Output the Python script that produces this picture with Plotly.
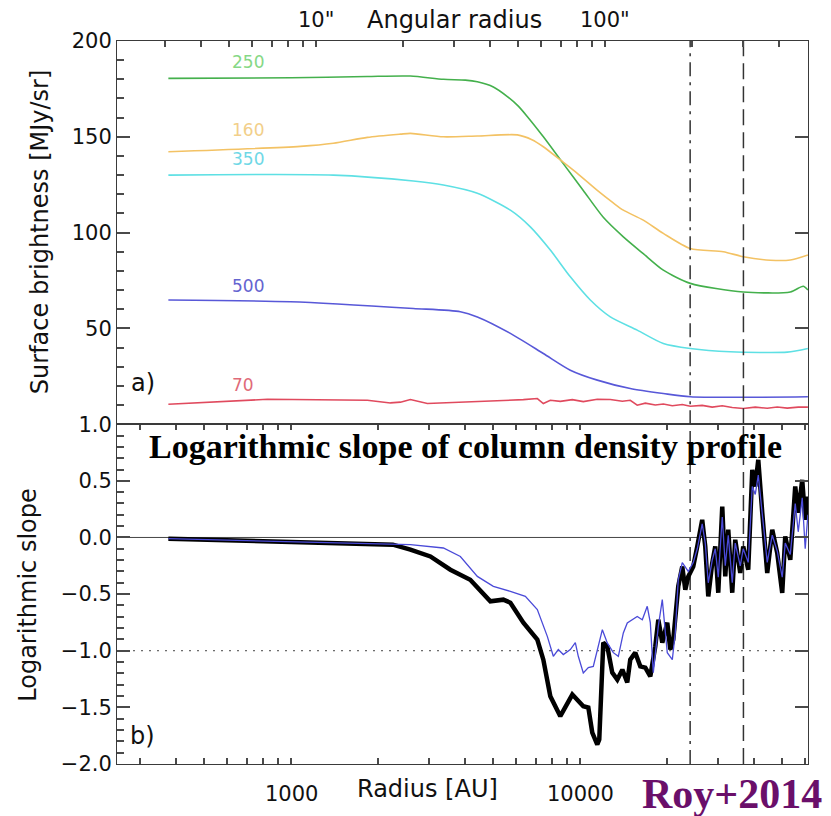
import numpy as np
import plotly.graph_objects as go

# ---------------- data ----------------
# top panel: surface brightness [MJy/sr] vs radius [AU]
r_250 = [375, 1000, 1830, 2580, 3360, 4000, 4400, 5000, 5590, 6100, 6560, 7450, 8730,
         10240, 12010, 14090, 16520, 19380, 24030, 36640, 53320, 59110, 61350]
sb_250 = [180.5, 180.8, 181.5, 181.7, 180.0, 179.6, 178.7, 176.0, 171.0, 166.0, 160.5,
          150.0, 136.0, 122.0, 108.0, 97.8, 89.0, 80.4, 73.5, 69.0, 69.0, 72.0, 70.0]

r_160 = [375, 1074, 1397, 1832, 2384, 2581, 3357, 4401, 6053, 6800, 7447, 8526, 9763,
         11450, 13000, 14090, 16520, 19380, 24030, 31250, 36640, 45440, 53320, 61350]
sb_160 = [142.2, 145.0, 146.6, 149.7, 151.4, 151.8, 150.0, 150.4, 151.0, 148.5, 144.8,
          137.9, 130.9, 122.0, 115.5, 111.7, 106.5, 99.6, 91.7, 90.0, 87.4, 85.6, 85.7, 88.3]

r_350 = [375, 1397, 2643, 3357, 4401, 5727, 6714, 7873, 9235, 10830, 12700, 15740,
         19380, 24030, 33040, 52040, 61350]
sb_350 = [130.0, 130.0, 126.9, 124.8, 120.5, 111.7, 103.0, 90.9, 76.9, 64.8, 56.0, 49.1,
          42.1, 39.5, 37.8, 37.6, 39.5]

r_500 = [375, 992, 2643, 3844, 4401, 5727, 7447, 9235, 11450, 14890, 19380, 24030, 61350]
sb_500 = [64.8, 63.9, 60.4, 58.7, 56.0, 47.4, 36.9, 28.2, 23.0, 18.6, 16.0, 14.3, 14.3]

r_70 = [375, 615, 826, 1832, 2201, 2384, 2581, 2955, 3550, 4401, 5415, 6351, 7099, 7447,
        7873, 8526, 9383, 10240, 11450, 12700, 13980, 14890, 15740, 16790, 18180, 19380,
        20820, 22540, 24030, 26420, 28620, 31000, 33570, 36640, 40330, 44370, 48050,
        52040, 56800, 61350]
sb_70 = [10.4, 11.8, 13.0, 12.5, 11.1, 11.5, 12.9, 10.8, 11.2, 11.6, 12.4, 12.8, 13.4,
         10.8, 12.5, 11.9, 12.8, 11.8, 13.0, 12.9, 12.0, 12.5, 9.9, 11.0, 10.0, 10.5, 9.6,
         10.3, 9.4, 9.8, 8.9, 9.6, 8.7, 8.2, 8.9, 8.3, 9.0, 8.4, 8.9, 8.9]

# bottom panel: logarithmic slope of column density profile
r_slope = [375, 1397, 2245, 2581, 3027, 3550, 4159, 4882, 5415, 5727, 6351, 7099, 7447,
           7873, 8526, 9383, 10240, 10660, 11000, 11450, 11630, 12010, 12400, 12900,
           13430, 13980, 14540, 14890, 15500, 16130, 16790, 17470, 18180, 18620, 19220,
           20000, 20490, 20980, 21830, 22540, 23090, 23650, 24600, 25400, 26420, 27070,
           27730, 28620, 29320, 30030, 31000, 31750, 32520, 33570, 34380, 35780, 36640,
           38130, 39380, 40330, 41310, 42650, 44370, 46180, 48050, 50000, 51210, 53320,
           55460, 56800, 58640, 60050, 61350]
slope_black = [-0.011, -0.049, -0.064, -0.108, -0.168, -0.285, -0.373, -0.564, -0.549,
               -0.576, -0.752, -0.902, -1.079, -1.402, -1.578, -1.387, -1.490, -1.501,
               -1.722, -1.828, -1.784, -0.929, -0.961, -1.193, -1.255, -1.167, -1.281,
               -1.079, -1.017, -1.138, -1.149, -1.226, -0.961, -0.726, -0.929, -0.752,
               -0.990, -0.902, -0.432, -0.256, -0.461, -0.344, -0.256, -0.079, 0.156,
               -0.079, -0.520, -0.226, -0.079, -0.488, 0.273, -0.344, 0.068, -0.488,
               -0.020, -0.314, -0.079, -0.285, 0.597, 0.450, 0.685, 0.215, -0.314, 0.068,
               -0.138, -0.490, 0.009, -0.197, 0.450, 0.218, 0.509, 0.156, 0.362]

r_slope_blue = [375, 1397, 2245, 2581, 3357, 3844, 4401, 5000, 5727, 6453, 7099, 7687,
                8064, 8391, 8733, 9235, 9610, 9840, 10240, 10660, 11090, 11540, 11920,
                12400, 13010, 13540, 14090, 14540, 15130, 15740, 16390, 17050, 17470,
                17890, 18620, 19220, 20000, 20820, 21320, 21830, 22540, 23650, 24600,
                25400, 26420, 27070, 27730, 28620, 29320, 30030, 31000, 31750, 32520,
                33570, 34380, 35780, 36640, 38130, 39380, 40330, 41310, 42650, 44370,
                46180, 48050, 50000, 51210, 53320, 55460, 56800, 58640, 60050, 61350]
slope_blue = [-0.011, -0.045, -0.055, -0.064, -0.093, -0.168, -0.344, -0.432, -0.476,
              -0.520, -0.637, -0.873, -1.049, -0.990, -1.034, -0.990, -0.929, -1.049,
              -1.196, -1.149, -1.138, -0.961, -0.814, -0.931, -1.017, -1.049, -0.843,
              -0.755, -0.726, -0.697, -0.726, -0.608, -0.752, -1.193, -0.785, -0.549,
              -1.017, -1.079, -0.840, -0.373, -0.223, -0.30, -0.22, -0.10, 0.12, -0.05,
              -0.40, -0.20, -0.10, -0.35, 0.18, -0.25, 0.02, -0.40, -0.05, -0.25, -0.10,
              -0.22, 0.45, 0.38, 0.55, 0.20, -0.22, 0.02, -0.12, -0.35, -0.05, -0.15,
              0.30, 0.05, 0.35, -0.10, 0.20]

# reference radii (vertical lines) [AU]
r_dashdot = 24000
r_dashed = 36700

# axis settings
R_MIN, R_MAX = 249, 61400          # AU
AU_PER_ARCSEC = 122.0
sb_range = [0, 200]
slope_range = [-2.0, 1.0]
sb_ticks = [50, 100, 150, 200]
sb_minor = [v for v in range(10, 200, 10) if v % 50]
slope_ticks = [-2.0, -1.5, -1.0, -0.5, 0.0, 0.5, 1.0]
slope_ticktext = ["\u22122.0", "\u22121.5", "\u22121.0", "\u22120.5", "0.0", "0.5", "1.0"]
slope_minor = [round(-2.0 + 0.1 * i, 1) for i in range(31) if i % 5]
au_ticks = [1000, 10000]
au_ticktext = ["1000", "10000"]
au_minor = [300, 400, 500, 600, 700, 800, 900, 2000, 3000, 4000, 5000, 6000, 7000,
            8000, 9000, 20000, 30000, 40000, 50000, 60000]
as_ticks = [10, 100]
as_ticktext = ['10"', '100"']
as_minor = [3, 4, 5, 6, 7, 8, 9, 20, 30, 40, 50, 60, 70, 80, 90, 200, 300, 400]

series = [
    ("250", r_250, sb_250, "#44b04c", "#86d886", 710, 189),
    ("160", r_160, sb_160, "#f3c264", "#f2cf8a", 710, 153.6),
    ("350", r_350, sb_350, "#5ee0e4", "#6fd8e6", 710, 138.3),
    ("500", r_500, sb_500, "#5858d8", "#6464d0", 710, 72.2),
    ("70", r_70, sb_70, "#e04a5e", "#e06a78", 682, 20.6),
]

# ---------------- figure ----------------
TOP_DOM = [0.47, 1.0]
BOT_DOM = [0.0, 0.47]
lo, hi = float(np.log10(R_MIN)), float(np.log10(R_MAX))


def px(r):      # radius -> paper x
    return float((np.log10(r) - lo) / (hi - lo))


def py_top(v):  # surface brightness -> paper y
    return TOP_DOM[0] + (TOP_DOM[1] - TOP_DOM[0]) * (v - sb_range[0]) / (sb_range[1] - sb_range[0])


fig = go.Figure()
FRAME = "#3a3a3a"
TICKC = "#4a4a4a"
TICKFONT = dict(family="DejaVu Sans", size=21, color="#111")

for name, r, sb, col, lcol, lx, ly in series:
    smooth = name != "70"
    line = dict(color=col, width=1.6)
    if smooth:
        line.update(shape="spline", smoothing=0.7)
    fig.add_trace(go.Scatter(x=r, y=sb, mode="lines", xaxis="x2", yaxis="y2",
                             line=line, showlegend=False))
    fig.add_annotation(x=px(lx), y=py_top(ly), xref="paper", yref="paper", text=name,
                       xanchor="center", yanchor="middle", showarrow=False,
                       font=dict(family="DejaVu Sans", size=17, color=lcol))

# horizontal reference lines in slope panel
fig.add_trace(go.Scatter(x=[R_MIN, R_MAX], y=[0, 0], mode="lines", xaxis="x", yaxis="y",
                         line=dict(color="#444", width=1), showlegend=False))
fig.add_trace(go.Scatter(x=[R_MIN, R_MAX], y=[-1, -1], mode="lines", xaxis="x", yaxis="y",
                         line=dict(color="#444", width=1, dash="2px,6px"), showlegend=False))

# vertical lines in both panels
for xa, ya, yr in [("x2", "y2", sb_range), ("x", "y", slope_range)]:
    fig.add_trace(go.Scatter(x=[r_dashdot, r_dashdot], y=yr, mode="lines", xaxis=xa, yaxis=ya,
                             line=dict(color="#333", width=1.5, dash="14px,6px,3px,6px"),
                             showlegend=False))
    fig.add_trace(go.Scatter(x=[r_dashed, r_dashed], y=yr, mode="lines", xaxis=xa, yaxis=ya,
                             line=dict(color="#333", width=1.5, dash="16px,7px"),
                             showlegend=False))

fig.add_trace(go.Scatter(x=r_slope, y=slope_black, mode="lines", xaxis="x", yaxis="y",
                         line=dict(color="black", width=4.5), showlegend=False))
fig.add_trace(go.Scatter(x=r_slope_blue, y=slope_blue, mode="lines", xaxis="x", yaxis="y",
                         line=dict(color="#4a4ad8", width=1.3), showlegend=False))

# invisible anchor traces for the minor-tick y axes
fig.add_trace(go.Scatter(x=[1000], y=[100], mode="markers", xaxis="x2", yaxis="y3",
                         marker=dict(opacity=0), hoverinfo="skip", showlegend=False))
fig.add_trace(go.Scatter(x=[1000], y=[0], mode="markers", xaxis="x", yaxis="y4",
                         marker=dict(opacity=0), hoverinfo="skip", showlegend=False))

au_all = sorted(au_ticks + au_minor)
as_all_au = [s * AU_PER_ARCSEC for s in sorted(as_ticks + as_minor)]

fig.update_layout(
    width=831, height=816,
    margin=dict(l=117, r=23, t=41, b=51.5),
    plot_bgcolor="white", paper_bgcolor="white", showlegend=False,
    # bottom panel radius axis (ticks mirrored to the top of the panel)
    xaxis=dict(type="log", range=[lo, hi], anchor="y", domain=[0, 1], showline=True,
               linecolor=FRAME, mirror="ticks", showgrid=False, zeroline=False,
               tickcolor=TICKC, tickwidth=2, ticks="inside", tickmode="array",
               ticklen=6, tickvals=au_all, showticklabels=False),
    # top panel: ticks of angular radius along its top edge
    xaxis2=dict(type="log", range=[lo, hi], anchor="y2", domain=[0, 1], side="top",
                showline=True, linecolor=FRAME, mirror=True, showgrid=False,
                zeroline=False, tickcolor=TICKC, tickwidth=2, ticks="inside",
                tickmode="array", ticklen=6, tickvals=as_all_au, showticklabels=False),
    yaxis=dict(domain=BOT_DOM, range=slope_range, anchor="x", showline=True,
               linecolor=FRAME, mirror="ticks", showgrid=False, zeroline=False,
               tickcolor=TICKC, tickwidth=2, ticks="inside", tickmode="array",
               ticklen=13, tickvals=slope_ticks, ticktext=slope_ticktext,
               tickfont=TICKFONT),
    yaxis4=dict(range=slope_range, overlaying="y", anchor="x", side="left",
                showline=False, showgrid=False, zeroline=False, tickcolor=TICKC,
                tickwidth=2, ticks="inside", ticklen=7, tickvals=slope_minor,
                showticklabels=False),
    yaxis2=dict(domain=TOP_DOM, range=sb_range, anchor="x2", showline=True,
                linecolor=FRAME, mirror="ticks", showgrid=False, zeroline=False,
                tickcolor=TICKC, tickwidth=2, ticks="inside", tickmode="array",
                ticklen=13, tickvals=sb_ticks, tickfont=TICKFONT),
    yaxis3=dict(range=sb_range, overlaying="y2", anchor="x2", side="left",
                showline=False, showgrid=False, zeroline=False, tickcolor=TICKC,
                tickwidth=2, ticks="inside", ticklen=7, tickvals=sb_minor,
                showticklabels=False),
)

# x tick labels (radius at bottom, angular radius at top)
for v, t in zip(au_ticks, au_ticktext):
    fig.add_annotation(x=px(v), y=-0.042, xref="paper", yref="paper", text=t,
                       xanchor="center", yanchor="middle", showarrow=False, font=TICKFONT)
for v, t in zip(as_ticks, as_ticktext):
    fig.add_annotation(x=px(v * AU_PER_ARCSEC), y=1.029, xref="paper", yref="paper", text=t,
                       xanchor="center", yanchor="middle", showarrow=False, font=TICKFONT)

AXFONT = dict(family="DejaVu Sans", size=24, color="#111")
ann = [
    dict(text="Surface brightness [MJy/sr]", x=-0.111, y=0.736, textangle=-90, font=AXFONT),
    dict(text="Logarithmic slope", x=-0.130, y=0.233, textangle=-90, font=AXFONT),
    dict(text="Radius [AU]", x=0.449, y=-0.035, font=AXFONT),
    dict(text="Angular radius", x=0.488, y=1.029, font=AXFONT),
    dict(text="a)", x=0.0376, y=0.527, font=dict(family="DejaVu Sans", size=24, color="#111")),
    dict(text="b)", x=0.0376, y=0.0394, font=dict(family="DejaVu Sans", size=24, color="#111")),
    dict(text="<b>Logarithmic slope of column density profile</b>", x=0.504, y=0.439,
         font=dict(family="Liberation Serif", size=34, color="black")),
    dict(text="<b>Roy+2014</b>", x=0.890, y=-0.042,
         font=dict(family="Liberation Serif", size=42, color="#6a0f6a")),
]
for a in ann:
    fig.add_annotation(xref="paper", yref="paper", showarrow=False,
                       xanchor="center", yanchor="middle", **a)

fig.write_html("out.html")
